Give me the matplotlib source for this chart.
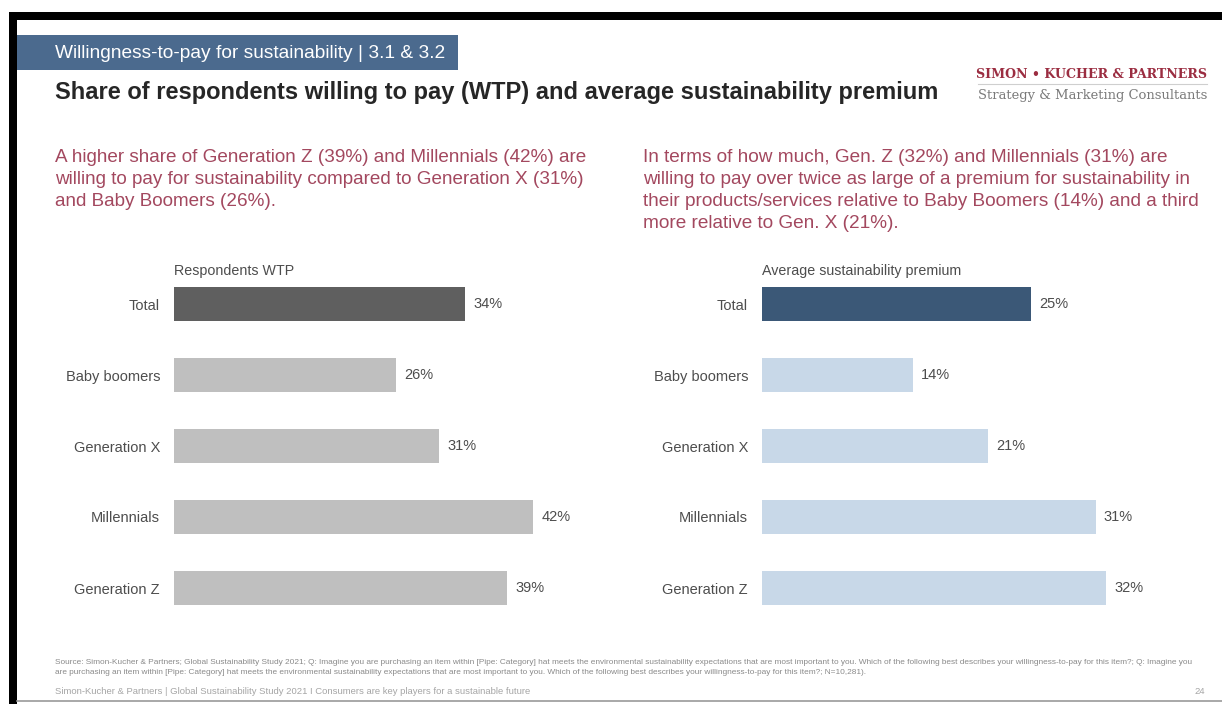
import matplotlib
matplotlib.use("Agg")
import matplotlib.pyplot as plt
from matplotlib.patches import Rectangle
from matplotlib.lines import Line2D

W, H = 1222, 704

# chart data
groups = ["Total", "Baby boomers", "Generation X", "Millennials", "Generation Z"]
wtp_share = [34, 26, 31, 42, 39]
premium = [25, 14, 21, 31, 32]

wtp_colors = ["#5f5f5f", "#bfbfbf", "#bfbfbf", "#bfbfbf", "#bfbfbf"]
premium_colors = ["#3b5877", "#c8d8e8", "#c8d8e8", "#c8d8e8", "#c8d8e8"]

left_note = ["A higher share of Generation Z (39%) and Millennials (42%) are",
             "willing to pay for sustainability compared to Generation X (31%)",
             "and Baby Boomers (26%)."]
right_note = ["In terms of how much, Gen. Z (32%) and Millennials (31%) are",
              "willing to pay over twice as large of a premium for sustainability in",
              "their products/services relative to Baby Boomers (14%) and a third",
              "more relative to Gen. X (21%)."]
source_1 = ("Source: Simon-Kucher & Partners; Global Sustainability Study 2021; Q: Imagine you are purchasing an item within "
            "[Pipe: Category] hat meets the environmental sustainability expectations that are most important to you. "
            "Which of the following best describes your willingness-to-pay for this item?; Q: Imagine you")
source_2 = ("are purchasing an item within [Pipe: Category] hat meets the environmental sustainability expectations that are "
            "most important to you. Which of the following best describes your willingness-to-pay for this item?; N=10,281).")
footer = ("Simon-Kucher & Partners | Global Sustainability Study 2021 I Consumers are key players for a sustainable future")

plt.rcParams["font.family"] = ["Liberation Sans", "DejaVu Sans"]

RED = "#a3485f"
LABEL = "#4d4d4d"
SERIF = ["DejaVu Serif", "Liberation Serif"]


def fx(x):
    return x / W


def fy(y):
    return 1 - y / H


fig = plt.figure(figsize=(W / 100, H / 100), dpi=100)
fig.patch.set_facecolor("white")

# page frame: black strips at top and left, grey line at bottom
fig.add_artist(Rectangle((fx(9), fy(20)), fx(W - 9), 8 / H, transform=fig.transFigure,
                         color="black", lw=0))
fig.add_artist(Rectangle((fx(9), 0), 8 / W, fy(20), transform=fig.transFigure,
                         color="black", lw=0))
fig.add_artist(Line2D([fx(17), 1], [fy(701), fy(701)], transform=fig.transFigure,
                      color="#9a9a9a", lw=1.2))

# section header band
fig.add_artist(Rectangle((fx(17), fy(70)), fx(458 - 17), 35 / H, transform=fig.transFigure,
                         color="#4b6a8e", lw=0))
fig.text(fx(55), fy(53), "Willingness-to-pay for sustainability | 3.1 & 3.2",
         color="white", fontsize=13.8, va="center", ha="left")

fig.text(fx(55), fy(92), "Share of respondents willing to pay (WTP) and average sustainability premium",
         color="#262626", fontsize=17, fontweight="bold", va="center", ha="left")

# company mark
fig.text(fx(1207), fy(74), "SIMON \u2022 KUCHER & PARTNERS", color="#9b2d41",
         fontsize=9.05, fontweight="bold", family=SERIF, va="center", ha="right")
fig.add_artist(Line2D([fx(978), fx(1207)], [fy(84), fy(84)], transform=fig.transFigure,
                      color="#cfcfcf", lw=0.8))
fig.text(fx(1207), fy(95), "Strategy & Marketing Consultants", color="#7a7a7a",
         fontsize=9.45, family=SERIF, va="center", ha="right")

for i, line in enumerate(left_note):
    fig.text(fx(55), fy(157 + 22 * i), line, color=RED, fontsize=13.6, va="center", ha="left")
for i, line in enumerate(right_note):
    fig.text(fx(643), fy(157 + 22 * i), line, color=RED, fontsize=13.7, va="center", ha="left")


def bar_panel(x0, px_per_unit, xmax, values, colors, heading):
    top, bottom = 268.5, 623.5
    ax = fig.add_axes([fx(x0), fy(bottom), xmax * px_per_unit / W, (bottom - top) / H])
    pos = list(range(len(groups)))
    ax.barh(pos, values, height=0.49, color=colors)
    ax.set_xlim(0, xmax)
    ax.set_ylim(len(groups) - 0.5, -0.5)
    ax.set_yticks(pos)
    ax.set_yticklabels(groups, fontsize=10.5, color=LABEL)
    ax.tick_params(axis="y", length=0, pad=10)
    ax.set_xticks([])
    for side in ax.spines.values():
        side.set_visible(False)
    ax.patch.set_alpha(0)
    for p, v in zip(pos, values):
        ax.annotate(f"{v}%", (v, p), xytext=(6, 0), textcoords="offset points",
                    va="center", ha="left", fontsize=10.5, color=LABEL)
    ax.text(0, -0.47, heading, fontsize=10.3, color=LABEL, va="center", ha="left")
    return ax


bar_panel(174, 8.55, 50, wtp_share, wtp_colors, "Respondents WTP")
bar_panel(762, 10.76, 40, premium, premium_colors, "Average sustainability premium")

fig.text(fx(55), fy(662), source_1, color="#8a8a8a", fontsize=5.96, va="center", ha="left")
fig.text(fx(55), fy(673), source_2, color="#8a8a8a", fontsize=5.96, va="center", ha="left")
fig.text(fx(55), fy(692), footer, color="#a5a5a5", fontsize=6.8, va="center", ha="left")
fig.text(fx(1205), fy(692), "24", color="#a5a5a5", fontsize=6.8, va="center", ha="right")

fig.savefig("out.png", dpi=100)
